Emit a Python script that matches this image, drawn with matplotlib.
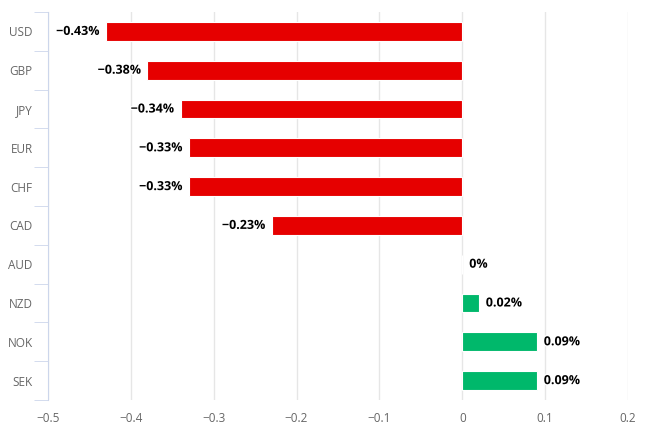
import matplotlib
matplotlib.use("Agg")
import matplotlib.pyplot as plt
import matplotlib.patheffects as pe

currencies = ["USD", "GBP", "JPY", "EUR", "CHF", "CAD", "AUD", "NZD", "NOK", "SEK"]
changes = [-0.43, -0.38, -0.34, -0.33, -0.33, -0.23, 0.0, 0.02, 0.09, 0.09]
xticks = [-0.5, -0.4, -0.3, -0.2, -0.1, 0, 0.1, 0.2]

plt.rcParams['font.family'] = ['Open Sans', 'DejaVu Sans']

fig = plt.figure(figsize=(6.51, 4.42), dpi=100)
ax = fig.add_axes([48/651, 42/442, 580/651, 388/442])

ypos = list(range(len(currencies)))
colors = ["#e60000" if v < 0 else "#00b86b" for v in changes]
ax.barh(ypos, changes, height=0.48, color=colors, edgecolor="white", linewidth=0.8, zorder=3)

def fmt(v):
    s = "0" if v == 0 else "%.2f" % v
    return s.replace("-", "\u2212") + "%"

for y, v in zip(ypos, changes):
    if v < 0:
        ha, off = "right", -4.5
    else:
        ha, off = "left", 5
    ax.annotate(fmt(v), (v, y), xytext=(off, 0), textcoords="offset points",
                ha=ha, va="center", fontsize=9, fontweight="bold", color="black",
                path_effects=[pe.withStroke(linewidth=2, foreground="white")], zorder=4)

ax.set_xlim(-0.5, 0.2)
ax.set_ylim(len(currencies) - 0.5, -0.5)
ax.set_xticks(xticks)
ax.set_xticklabels([("%g" % t).replace("-", "\u2212") for t in xticks])
ax.set_yticks(ypos)
ax.set_yticklabels(currencies)
ax.set_yticks([i - 0.5 for i in range(len(currencies) + 1)], minor=True)

ax.grid(axis="x", color="#e6e6e6", linewidth=1, zorder=0)
for s in ["top", "right", "bottom"]:
    ax.spines[s].set_visible(False)
ax.spines["left"].set_color("#ccd6eb")
ax.tick_params(axis="y", which="major", length=0, pad=11, labelsize=8.5, labelcolor="#666666")
ax.tick_params(axis="y", which="minor", length=10, color="#ccd6eb")
ax.tick_params(axis="x", length=0, pad=9, labelsize=8.5, labelcolor="#666666")

fig.savefig("out.png", dpi=100)
